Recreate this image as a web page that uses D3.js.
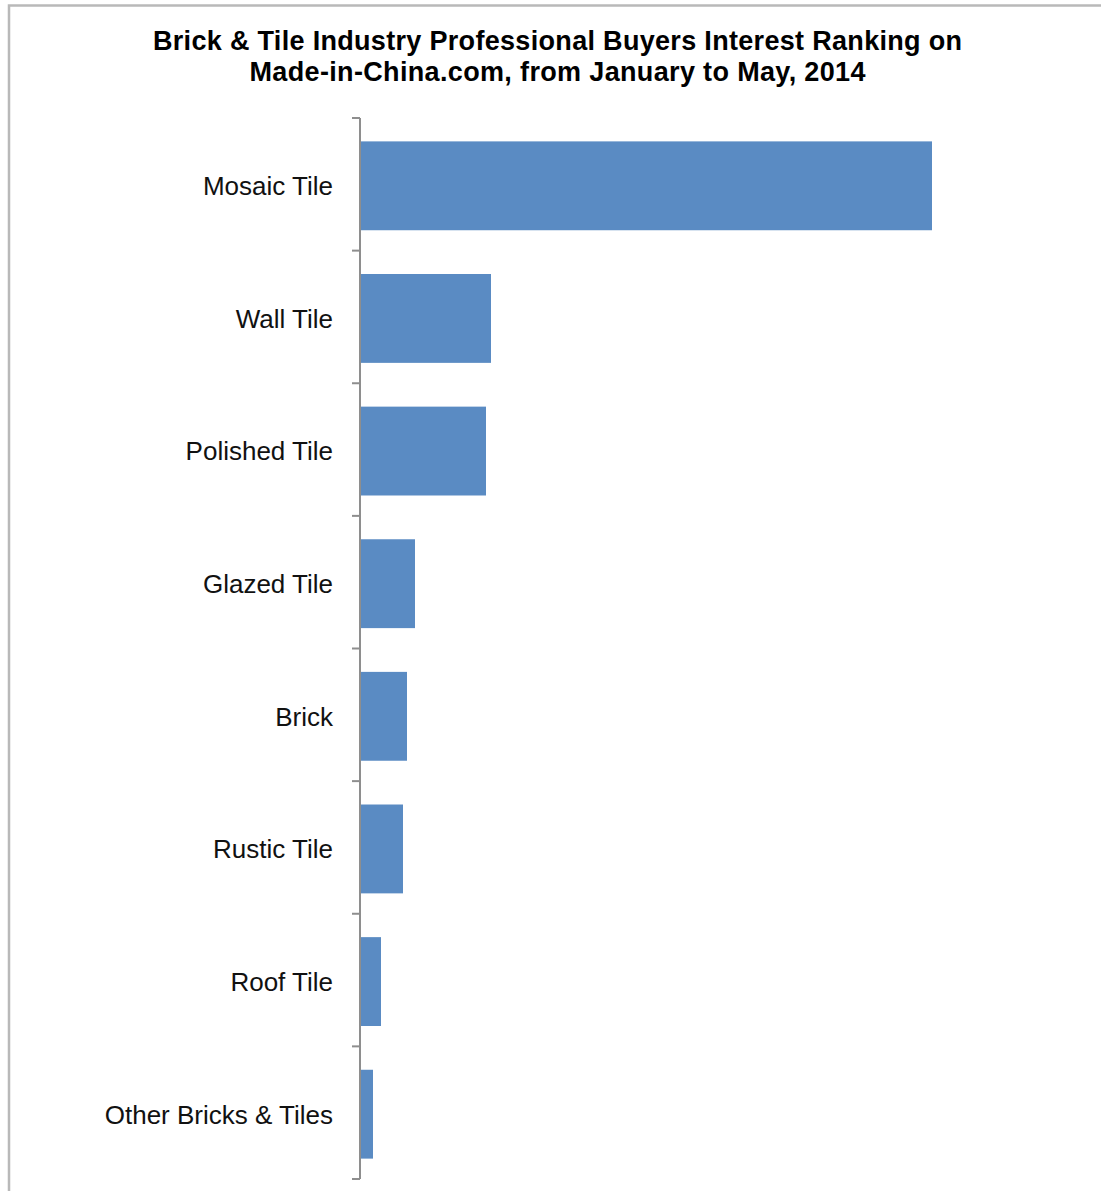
<!DOCTYPE html>
<html>

<head>
    <meta charset="utf-8">
    <title>brick_tile_buyers</title>
    <style>
        body { margin: 0; background: #fff; }
    </style>
</head>

<body>
</body>

<script type="text/javascript" src="https://d3js.org/d3.v7.min.js"></script>
<script type="text/javascript">
    // categories top to bottom, share of buyer interest (%)
    var categories = ["Mosaic Tile", "Wall Tile", "Polished Tile", "Glazed Tile", "Brick", "Rustic Tile", "Roof Tile", "Other Bricks & Tiles"];
    var values = [57.1, 13.0, 12.5, 5.4, 4.6, 4.2, 2.0, 1.2];
    var titleLines = ["Brick & Tile Industry Professional Buyers Interest Ranking on", "Made-in-China.com, from January to May, 2014"];

    var width = 1101, height = 1191;
    var axisX = 360, plotTop = 118, plotBottom = 1179;   // note: "top" clashes with window.top

    var svg = d3.select('body')
        .append('svg')
        .attr('width', width).attr('height', height);

    // outer chart border
    svg.append("rect")
        .attr("x", 9).attr("y", 5.5)
        .attr("width", 1200).attr("height", 1300)
        .attr("fill", "none")
        .attr("stroke", "#b9b9b9")
        .attr("stroke-width", 2.5);

    // title
    var titleW = [809, 616];
    svg.selectAll(".title")
        .data(titleLines)
        .enter()
        .append("text")
        .attr("class", "title")
        .text(function (d) { return d; })
        .attr("x", 557.5)
        .attr("y", function (d, i) { return 50 + i * 31; })
        .attr("text-anchor", "middle")
        .attr("font-family", "Liberation Sans, Arial, sans-serif")
        .attr("font-weight", "bold")
        .attr("font-size", "27px")
        .attr("textLength", function (d, i) { return titleW[i]; })
        .attr("lengthAdjust", "spacing")
        .attr("fill", "#000");

    // bars sit a touch below centre in the original, hence the 1.5px nudge
    var y = d3.scaleBand()
        .domain(categories)
        .range([plotTop + 1.5, plotBottom + 1.5])
        .paddingInner(0.33)
        .paddingOuter(0.165);

    var x = d3.scaleLinear()
        .domain([0, 70])
        .range([axisX + 1, axisX + 701]);

    // bars
    svg.selectAll('.bar')
        .data(categories)
        .enter()
        .append('rect')
        .attr("class", "bar")
        .attr("x", x(0))
        .attr("y", function (d) { return y(d); })
        .attr("width", function (d, i) { return x(values[i]) - x(0); })
        .attr("height", y.bandwidth())
        .attr("fill", "#5a8bc3");

    // category axis line + boundary ticks
    svg.append("line")
        .attr("x1", axisX).attr("x2", axisX)
        .attr("y1", plotTop).attr("y2", plotBottom)
        .attr("stroke", "#8e8e8e")
        .attr("stroke-width", 2);

    var gap = (plotBottom - plotTop) / categories.length;
    var bounds = d3.range(categories.length + 1);
    svg.selectAll(".tick")
        .data(bounds)
        .enter()
        .append("line")
        .attr("class", "tick")
        .attr("x1", axisX - 8).attr("x2", axisX)
        .attr("y1", function (d) { return plotTop + d * gap; })
        .attr("y2", function (d) { return plotTop + d * gap; })
        .attr("stroke", "#8e8e8e")
        .attr("stroke-width", 2);

    // category labels
    svg.selectAll(".label")
        .data(categories)
        .enter()
        .append("text")
        .attr("class", "label")
        .text(function (d) { return d; })
        .attr("x", axisX - 27)
        .attr("y", function (d) { return y(d) + y.bandwidth() / 2; })
        .attr("dy", "0.36em")
        .attr("text-anchor", "end")
        .attr("font-family", "Liberation Sans, Arial, sans-serif")
        .attr("font-size", "26px")
        .attr("fill", "#111");
</script>

</html>
